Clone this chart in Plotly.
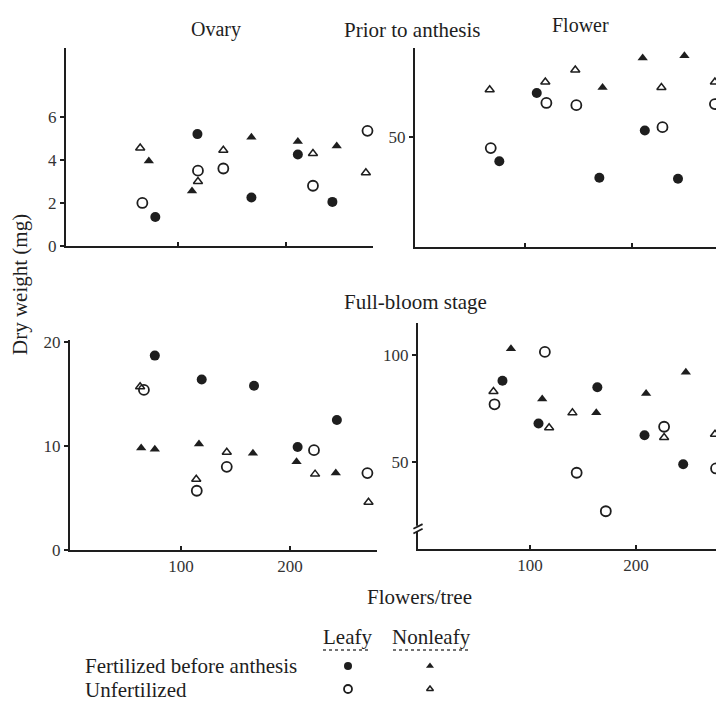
import plotly.graph_objects as go

# ---------------- data (x = flowers/tree, y = dry weight) ----------------
# group codes: FL = fertilized/leafy, FN = fertilized/nonleafy,
#              UL = unfertilized/leafy, UN = unfertilized/nonleafy
ovary_pre_x = [65, 73, 67, 79, 118, 118.5, 118.5, 113, 142, 142, 168, 168, 211, 211, 225, 225, 247, 243, 275.5, 274]
ovary_pre_y = [4.55, 3.95, 2.0, 1.35, 5.2, 3.5, 3.0, 2.55, 4.45, 3.6, 5.05, 2.25, 4.85, 4.25, 4.3, 2.8, 4.65, 2.05, 5.35, 3.4]
ovary_pre_g = ["UN", "FN", "UL", "FL", "FL", "UL", "UN", "FN", "UN", "UL", "FN", "FL", "FN", "FL", "UN", "UL", "FN", "FL", "UL", "UN"]

flower_pre_x = [67, 68, 76, 111, 119, 120, 147, 148, 172.5, 169.5, 210, 212, 228.5, 227.5, 249, 243, 277.5, 277.5]
flower_pre_y = [71.5, 45, 39, 70, 75, 65.5, 80.5, 64.5, 72.5, 31.5, 86, 53, 54.5, 72.5, 87, 31, 75, 65]
flower_pre_g = ["UN", "UL", "FL", "FL", "UN", "UL", "UN", "UL", "FN", "FL", "FN", "FL", "UL", "UN", "FN", "FL", "UN", "UL"]

ovary_full_x = [76, 62.5, 66, 63.5, 76, 119, 116.5, 114, 114.5, 142, 142, 167, 166, 207, 206, 222, 223, 243, 242, 271, 272]
ovary_full_y = [18.7, 15.7, 15.4, 9.8, 9.7, 16.4, 10.2, 6.8, 5.7, 9.4, 8.0, 15.8, 9.3, 9.9, 8.5, 9.6, 7.3, 12.5, 7.4, 7.4, 4.6]
ovary_full_g = ["FL", "UN", "UL", "FN", "FN", "FL", "FN", "UN", "UL", "UN", "UL", "FL", "FN", "FL", "FN", "UL", "UN", "FL", "FN", "UL", "UN"]

flower_full_x = [82, 114, 74, 65.5, 66.5, 111.5, 108, 118, 140, 144, 163.5, 162.5, 171.5, 209.5, 208, 226.5, 226.5, 247, 244.5, 274.5, 275.5]
flower_full_y = [103, 101.5, 88, 83, 77, 79.5, 68, 66, 73, 45, 85, 73, 27, 82, 62.5, 66.5, 61.5, 92, 49, 63, 47]
flower_full_g = ["FN", "UL", "FL", "UN", "UL", "FN", "FL", "UN", "UN", "UL", "FL", "FN", "UL", "FN", "FL", "UL", "UN", "FN", "FL", "UN", "UL"]

ovary_pre_ticks = [0, 2, 4, 6]
flower_pre_ticks = [50]
ovary_full_ticks = [0, 10, 20]
flower_full_ticks = [50, 100]
flowers_ticks = [100, 200]

legend_cols = ["Leafy", "Nonleafy"]
legend_rows = ["Fertilized before anthesis", "Unfertilized"]

# ---------------- styles ----------------
INK = "#1e1e1e"
FONT = "Liberation Serif"
STYLE = {
    "FL": dict(symbol="circle", size=10, color=INK, line=dict(width=0)),
    "FN": dict(symbol="triangle-up", size=9, color=INK, line=dict(width=0)),
    "UL": dict(symbol="circle-open", size=10, color=INK, line=dict(width=1.8)),
    "UN": dict(symbol="triangle-up-open", size=8, color=INK, line=dict(width=1.5)),
}

fig = go.Figure()

panels = [
    (ovary_pre_x, ovary_pre_y, ovary_pre_g, "x", "y"),
    (flower_pre_x, flower_pre_y, flower_pre_g, "x2", "y2"),
    (ovary_full_x, ovary_full_y, ovary_full_g, "x3", "y3"),
    (flower_full_x, flower_full_y, flower_full_g, "x4", "y4"),
]
for xs, ys, gs, xa, ya in panels:
    for code in ["UN", "UL", "FN", "FL"]:
        px = [x for x, g in zip(xs, gs) if g == code]
        py = [y for y, g in zip(ys, gs) if g == code]
        fig.add_trace(go.Scatter(x=px, y=py, mode="markers", marker=STYLE[code],
                                 xaxis=xa, yaxis=ya, showlegend=False, cliponaxis=False))

# legend grid (categorical hidden axes)
leg = [("FL", 0, 0), ("FN", 1, 0), ("UL", 0, 1), ("UN", 1, 1)]
for code, ci, ri in leg:
    st = dict(STYLE[code])
    st["size"] = st["size"] - 2
    fig.add_trace(go.Scatter(x=[legend_cols[ci]], y=[legend_rows[ri]], mode="markers",
                             marker=st, xaxis="x5", yaxis="y5", showlegend=False))

W, H = 724, 707
OFF = 8  # page body margin offset of the rendered figure

def X(px):
    return (px - OFF) / W
def Y(py):
    return 1 - (py - OFF) / H
def dx(a, b):
    return [X(a), X(b)]
def dy(top, bot):
    return [Y(bot), Y(top)]

axis_common = dict(showgrid=False, zeroline=False, showline=True, linecolor=INK, linewidth=2,
                   tickcolor=INK, ticklen=4, tickwidth=1.5, automargin=False,
                   tickfont=dict(family=FONT, size=17, color="#333333"))

fig.update_layout(
    template="none",
    width=W, height=H, margin=dict(l=0, r=0, t=0, b=0, pad=0), autosize=False,
    paper_bgcolor="white", plot_bgcolor="white", showlegend=False,
    font=dict(family=FONT, color=INK),
    xaxis=dict(domain=dx(66, 373), range=[-3.7, 280.6], anchor="y", tickmode="array",
               tickvals=flowers_ticks, ticks="inside", showticklabels=False, **axis_common),
    yaxis=dict(domain=dy(48, 246), range=[0, 9.2], anchor="x", tickmode="array",
               tickvals=ovary_pre_ticks, ticks="outside", **axis_common),
    xaxis2=dict(domain=dx(415, 724), range=[-2.8, 286], anchor="y2", tickmode="array",
                tickvals=flowers_ticks, ticks="inside", showticklabels=False, **axis_common),
    yaxis2=dict(domain=dy(48, 247), range=[0, 90.5], anchor="x2", tickmode="array",
                tickvals=flower_pre_ticks, ticks="outside", **axis_common),
    xaxis3=dict(domain=dx(70, 377), range=[-1.8, 279.8], anchor="y3", tickmode="array",
                tickvals=flowers_ticks, ticks="inside", **axis_common),
    yaxis3=dict(domain=dy(340, 550), range=[0, 20.2], anchor="x3", tickmode="array",
                tickvals=ovary_full_ticks, ticks="outside", **axis_common),
    xaxis4=dict(domain=dx(418, 724), range=[-5.7, 283], anchor="y4", tickmode="array",
                tickvals=flowers_ticks, ticks="inside", **axis_common),
    yaxis4=dict(domain=dy(323, 549), range=[9.35, 115], anchor="x4", tickmode="array",
                tickvals=flower_full_ticks, ticks="outside", **axis_common),
    xaxis5=dict(domain=dx(307, 471), range=[-0.5, 1.5], anchor="y5", visible=False,
                type="category", categoryorder="array", categoryarray=legend_cols),
    yaxis5=dict(domain=dy(654.5, 700.5), range=[1.5, -0.5], anchor="x5", visible=False,
                type="category", categoryorder="array", categoryarray=legend_rows),
)

def txt(s, x, y, size=21, xanchor="center", angle=0):
    fig.add_annotation(text=s, x=X(x), y=Y(y), xref="paper", yref="paper",
                       showarrow=False, xanchor=xanchor, yanchor="middle", textangle=angle,
                       font=dict(family=FONT, size=size, color=INK))

txt("Ovary", 216, 30, size=20)
txt("Prior to anthesis", 412, 30)
txt("Flower", 580, 25, size=20)
txt("Full-bloom stage", 415, 302)
txt("Dry weight (mg)", 20, 285, size=21, angle=-90)
txt("Flowers/tree", 419, 597)
txt(legend_cols[0], 347, 637)
txt(legend_cols[1], 432, 637)
txt(legend_rows[0], 83, 666, xanchor="left")
txt(legend_rows[1], 83, 690, xanchor="left")

# dashed underlines under legend column heads
for a, b in [(323, 371), (393, 471)]:
    fig.add_shape(type="line", xref="paper", yref="paper", x0=X(a), x1=X(b),
                  y0=Y(650), y1=Y(650), line=dict(color="#444444", width=1.5, dash="dot"))

# axis break on the lower-right y axis
fig.add_shape(type="rect", xref="x4 domain", yref="y4", x0=-0.02, x1=0.02, y0=17.6, y1=20.2,
              fillcolor="white", line=dict(width=0), layer="above")
for y0 in (16.6, 18.8):
    fig.add_shape(type="line", xref="x4 domain", yref="y4", x0=-0.015, x1=0.015,
                  y0=y0, y1=y0 + 2.2, line=dict(color=INK, width=1.8), layer="above")

fig.write_html("out.html")
